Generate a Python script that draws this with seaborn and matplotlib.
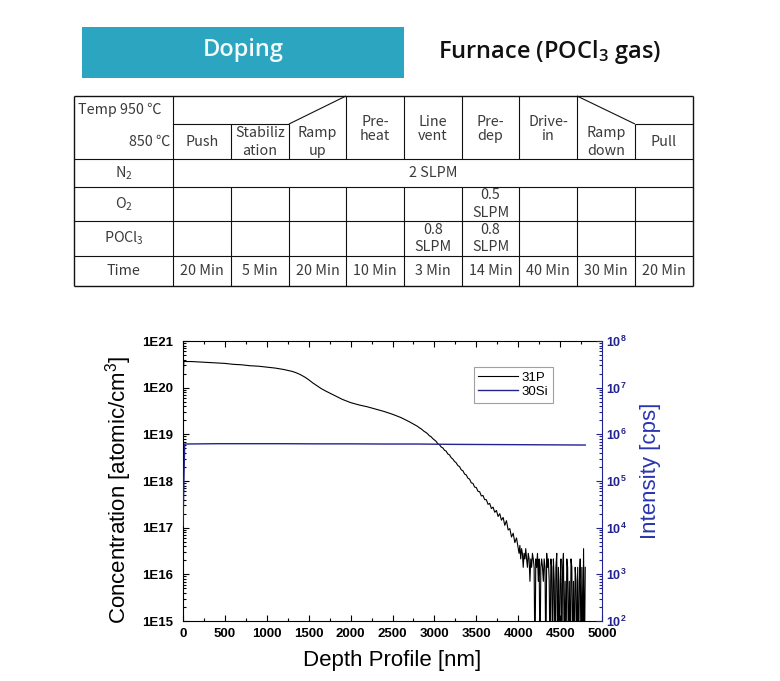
import numpy as np
import pandas as pd
import matplotlib
matplotlib.use("Agg")
import matplotlib.pyplot as plt
import seaborn as sns
from matplotlib.patches import Rectangle
from matplotlib.lines import Line2D
from matplotlib.ticker import (FixedLocator, LogLocator, FuncFormatter,
                               MultipleLocator, NullFormatter)

# ---------------- header / table content ----------------
header_title = "Doping"
header_subtitle = "Furnace (POCl$\\mathregular{_3}$ gas)"

temp_high = "Temp 950 \u2103"
temp_low = "850 \u2103"
step_names = ["Push", "Stabiliz\nation", "Ramp\nup", "Pre-\nheat", "Line\nvent",
              "Pre-\ndep", "Drive-\nin", "Ramp\ndown", "Pull"]
step_at_high_temp = [False, False, False, True, True, True, True, False, False]
row_labels = ["N$\\mathregular{_2}$", "O$\\mathregular{_2}$",
              "POCl$\\mathregular{_3}$", "Time"]
n2_flow = "2 SLPM"
o2_flow = ["", "", "", "", "", "0.5\nSLPM", "", "", ""]
pocl3_flow = ["", "", "", "", "0.8\nSLPM", "0.8\nSLPM", "", "", ""]
step_times = ["20 Min", "5 Min", "20 Min", "10 Min", "3 Min", "14 Min",
              "40 Min", "30 Min", "20 Min"]

# ---------------- SIMS profile data ----------------
p31_depth = [
    0, 10, 100, 200, 300, 400, 500, 600, 700, 800, 900, 1000, 1100, 1200, 1300, 1350,
    1400, 1450, 1500, 1550, 1600, 1650, 1700, 1800, 1900, 2000, 2100, 2200, 2300,
    2400, 2500, 2600, 2700,
    2800, 2820, 2840, 2860, 2880, 2900, 2920, 2940, 2960, 2980,
    3000, 3020, 3040, 3060, 3080, 3100, 3120, 3140, 3160, 3180,
    3200, 3220, 3240, 3260, 3280, 3300, 3320, 3340, 3360, 3380,
    3400, 3420, 3440, 3460, 3480, 3500, 3520, 3540, 3560, 3580,
    3600, 3620, 3640, 3660, 3680, 3700, 3720, 3740, 3760, 3780,
    3800, 3820, 3840, 3860, 3880, 3900, 3920, 3940, 3960, 3980,
    4000, 4010, 4020, 4030, 4040, 4050, 4060, 4070, 4080, 4090,
    4100, 4110, 4120, 4130, 4140, 4150, 4160, 4170, 4180, 4190,
    4200, 4210, 4220, 4230, 4240, 4250, 4260, 4270, 4280, 4290,
    4300, 4310, 4320, 4330, 4340, 4350, 4360, 4370, 4380, 4390,
    4400, 4410, 4420, 4430, 4440, 4450, 4460, 4470, 4480, 4490,
    4500, 4510, 4520, 4530, 4540, 4550, 4560, 4570, 4580, 4590,
    4600, 4610, 4620, 4630, 4640, 4650, 4660, 4670, 4680, 4690,
    4700, 4710, 4720, 4730, 4740, 4750, 4760, 4770, 4780, 4790, 4800,
]
# log10 of concentration [atomic/cm3]; 14.0 marks zero-count points
p31_log10_conc = [
    20.0, 20.56, 20.56, 20.55, 20.54, 20.53, 20.52, 20.50, 20.49, 20.47, 20.46, 20.44,
    20.42, 20.39, 20.35, 20.32, 20.28, 20.23, 20.17, 20.10, 20.04, 19.98, 19.93,
    19.84, 19.75, 19.68, 19.63, 19.59, 19.54, 19.49, 19.43, 19.36, 19.27,
    19.17, 19.14, 19.12, 19.09, 19.06, 19.04, 19.01, 18.97, 18.95, 18.91,
    18.88, 18.85, 18.80, 18.78, 18.73, 18.71, 18.66, 18.64, 18.58, 18.56,
    18.50, 18.47, 18.42, 18.39, 18.33, 18.31, 18.24, 18.22, 18.15, 18.13,
    18.06, 18.04, 17.96, 17.95, 17.87, 17.86, 17.78, 17.77, 17.68, 17.69,
    17.60, 17.60, 17.50, 17.52, 17.41, 17.44, 17.33, 17.37, 17.24, 17.30,
    17.16, 17.22, 17.05, 17.15, 16.95, 16.98, 16.80, 16.88, 16.68, 16.78,
    16.55, 16.45, 16.62, 16.33, 16.55, 16.45, 16.15, 16.45, 16.33, 16.55,
    16.33, 16.15, 16.45, 16.33, 15.85, 16.33, 16.15, 16.45, 16.33, 16.15,
    14.0, 16.33, 16.15, 16.45, 15.85, 16.33, 14.0, 16.15, 16.33, 16.15,
    15.85, 16.33, 16.15, 14.0, 16.45, 16.15, 16.33, 15.85, 14.0, 16.33,
    16.15, 14.0, 16.33, 15.85, 14.0, 16.15, 16.45, 14.0, 16.15, 14.0,
    15.85, 16.33, 14.0, 16.15, 16.45, 14.0, 15.85, 14.0, 16.33, 16.15,
    14.0, 15.85, 14.0, 16.33, 16.15, 14.0, 15.85, 14.0, 16.15, 15.85,
    14.0, 16.15, 14.0, 15.85, 16.33, 14.0, 16.15, 14.0, 16.55, 14.0, 16.15,
]
si30_depth = [0, 20, 400, 800, 1200, 1600, 2000, 2400, 2800, 3200, 3600, 4000, 4400, 4800]
si30_cps = [1.1e4, 6.2e5, 6.3e5, 6.3e5, 6.3e5, 6.25e5, 6.25e5, 6.2e5, 6.2e5,
            6.1e5, 6.05e5, 6.0e5, 5.95e5, 5.9e5]

left_ticks_exp = [15, 16, 17, 18, 19, 20, 21]
right_ticks_exp = [2, 3, 4, 5, 6, 7, 8]

# ---------------- style ----------------
plt.rcParams['font.family'] = ['Liberation Sans', 'DejaVu Sans']
plt.rcParams['mathtext.fontset'] = 'custom'
plt.rcParams['mathtext.rm'] = 'Liberation Sans'
plt.rcParams['mathtext.bf'] = 'Liberation Sans:bold'
plt.rcParams['mathtext.it'] = 'Liberation Sans:italic'

navy = '#22238f'
label_blue = '#2a36b0'
table_font = ['Noto Sans CJK KR', 'DejaVu Sans']
table_color = '#3a3a3a'

W, H = 780, 681
fig = plt.figure(figsize=(W / 100, H / 100), dpi=100)
fig.patch.set_facecolor('white')

# overlay axes in pixel coordinates for header and table
ov = fig.add_axes([0, 0, 1, 1])
ov.set_xlim(0, W)
ov.set_ylim(H, 0)
ov.axis('off')
ov.patch.set_alpha(0)

ov.add_patch(Rectangle((82, 27), 322, 51, facecolor='#2ca5c0', edgecolor='none'))
ov.text(243, 50, header_title, color='#f4fbfd', fontsize=17, fontweight='semibold',
        family=['Open Sans', 'DejaVu Sans'], ha='center', va='center')
ov.text(438, 52, header_subtitle, color='#111111', fontsize=17, fontweight='semibold',
        family=['Open Sans', 'DejaVu Sans'], ha='left', va='center')

# table geometry
col_x = [173, 231, 289, 346, 404, 462, 519, 577, 635, 693]
tl, tt, tm, tb = 74, 96, 124, 286
row_y = [159, 187, 221, 256, 286]
lc = '#111111'
lw = 0.8

def seg(x0, y0, x1, y1, w=lw):
    ov.plot([x0, x1], [y0, y1], color=lc, lw=w, solid_capstyle='butt')

# outer border
seg(tl, tt, col_x[-1], tt, 1.0)
seg(tl, tb, col_x[-1], tb, 1.0)
seg(tl, tt, tl, tb, 1.0)
seg(col_x[-1], tt, col_x[-1], tb, 1.0)
# horizontal rows
for y in row_y[:-1]:
    seg(tl, y, col_x[-1], y)
# temperature split line and ramps
seg(col_x[0], tm, col_x[2], tm)
seg(col_x[2], tm, col_x[3], tt)
seg(col_x[7], tt, col_x[8], tm)
seg(col_x[8], tm, col_x[9], tm)
# label column divider
seg(col_x[0], tt, col_x[0], tb)
# vertical dividers
for i in range(1, 9):
    top = tt if (step_at_high_temp[i - 1] or step_at_high_temp[i] or i == 3) else tm
    seg(col_x[i], top, col_x[i], row_y[0])
    seg(col_x[i], row_y[1], col_x[i], tb)

fs_tab = 10.3
tkw = dict(family=table_font, fontsize=fs_tab, color=table_color, ha='center',
           va='center')
ov.text(78, 110, temp_high, family=table_font, fontsize=fs_tab, color=table_color,
        ha='left', va='center')
ov.text(170, 142, temp_low, family=table_font, fontsize=fs_tab, color=table_color,
        ha='right', va='center')
label_x = (tl + col_x[0]) / 2
for lab, (y0, y1) in zip(row_labels, zip(row_y[:-1], row_y[1:])):
    ov.text(label_x, (y0 + y1) / 2, lab, linespacing=1.0, **tkw)

for i, name in enumerate(step_names):
    cx = (col_x[i] + col_x[i + 1]) / 2
    if step_at_high_temp[i]:
        ov.text(cx, 129, name, linespacing=1.05, **tkw)
    else:
        ov.text(cx, 142, name, linespacing=1.35, **tkw)
    ov.text(cx, (row_y[1] + row_y[2]) / 2, o2_flow[i], linespacing=1.45, **tkw)
    ov.text(cx, (row_y[2] + row_y[3]) / 2, pocl3_flow[i], linespacing=1.3, **tkw)
    ov.text(cx, (row_y[3] + row_y[4]) / 2, step_times[i], **tkw)
ov.text((col_x[0] + col_x[-1]) / 2, (row_y[0] + row_y[1]) / 2, n2_flow, **tkw)

# ---------------- SIMS chart ----------------
ax = fig.add_axes([183 / W, 1 - 621 / H, 419 / W, 280 / H])
df_p = pd.DataFrame({'depth': p31_depth, 'conc': 10.0 ** np.array(p31_log10_conc)})
sns.lineplot(data=df_p, x='depth', y='conc', ax=ax, color='black', lw=0.8,
             estimator=None, sort=False)
ax.set_yscale('log')
ax.set_xlim(0, 5000)
ax.set_ylim(1e15, 1e21)
ax.set_xlabel('')
ax.set_ylabel('')

ax2 = ax.twinx()
df_si = pd.DataFrame({'depth': si30_depth, 'cps': si30_cps})
sns.lineplot(data=df_si, x='depth', y='cps', ax=ax2, color=navy, lw=1.0,
             estimator=None, sort=False)
ax2.set_yscale('log')
ax2.set_ylim(1e2, 1e8)
ax2.set_xlabel('')
ax2.set_ylabel('')

# ticks
ax.xaxis.set_major_locator(MultipleLocator(500))
ax.xaxis.set_minor_locator(MultipleLocator(250))
ax.yaxis.set_major_locator(FixedLocator([10.0 ** e for e in left_ticks_exp]))
ax.yaxis.set_minor_locator(LogLocator(base=10, subs=np.arange(2, 10), numticks=20))
ax.yaxis.set_minor_formatter(NullFormatter())
ax.yaxis.set_major_formatter(FuncFormatter(lambda v, p: "1E%d" % round(np.log10(v))))
ax.tick_params(axis='x', which='both', direction='in', top=True, bottom=True,
               width=0.8, labelsize=9.5, pad=5)
ax.tick_params(axis='x', which='major', length=4)
ax.tick_params(axis='x', which='minor', length=2.5)
ax.tick_params(axis='y', which='both', direction='in', left=True, right=False,
               width=0.8, labelsize=9.5, pad=7)
ax.tick_params(axis='y', which='major', length=4)
ax.tick_params(axis='y', which='minor', length=2)
for lab in ax.get_xticklabels() + ax.get_yticklabels():
    lab.set_fontweight('bold')

ax2.yaxis.set_major_locator(FixedLocator([10.0 ** e for e in right_ticks_exp]))
ax2.yaxis.set_minor_locator(LogLocator(base=10, subs=np.arange(2, 10), numticks=20))
ax2.yaxis.set_minor_formatter(NullFormatter())
ax2.yaxis.set_major_formatter(FuncFormatter(
    lambda v, p: r"$\mathbf{10^{%d}}$" % round(np.log10(v))))
ax2.tick_params(axis='y', which='both', direction='in', colors=navy, width=0.8,
                labelsize=9, pad=3)
ax2.tick_params(axis='y', which='major', length=4)
ax2.tick_params(axis='y', which='minor', length=2)

for sp in ax.spines.values():
    sp.set_linewidth(0.8)
ax.spines['right'].set_visible(False)
for name, sp in ax2.spines.items():
    sp.set_linewidth(0.8)
    if name == 'right':
        sp.set_color(navy)
    else:
        sp.set_visible(False)

ax.text(0.5, -0.14, "Depth Profile [nm]", transform=ax.transAxes, ha='center',
        va='center', fontsize=16)
ax.text(-0.153, 0.47, "Concentration [atomic/cm$^3$]", transform=ax.transAxes,
        ha='center', va='center', rotation=90, fontsize=16)
ax.text(1.115, 0.535, "Intensity [cps]", transform=ax.transAxes, ha='center',
        va='center', rotation=90, fontsize=16, color=label_blue)

handles = [Line2D([], [], color='black', lw=0.8), Line2D([], [], color=navy, lw=1.0)]
leg = ax2.legend(handles, ['31P', '30Si'], loc='upper left',
                 bbox_to_anchor=(0.694, 0.907), frameon=True, fancybox=False,
                 edgecolor='#888888', fontsize=9.5, handlelength=3.0, borderpad=0.35,
                 labelspacing=0.15, handletextpad=0.3, borderaxespad=0)
leg.get_frame().set_linewidth(0.8)

fig.savefig('out.png', dpi=100, facecolor='white')
